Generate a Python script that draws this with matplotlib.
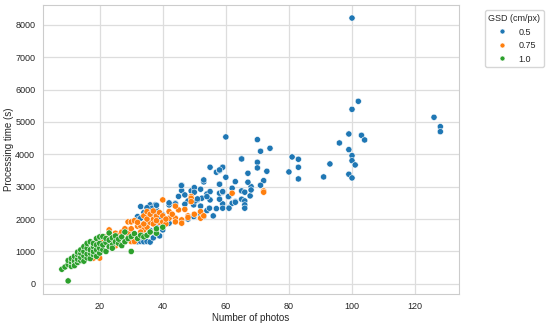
import matplotlib
matplotlib.use("Agg")
import matplotlib.pyplot as plt
import seaborn as sns
import pandas as pd

# GSD 1.0 (green)
x_gsd10 = [8, 9, 10, 10, 10, 11, 11, 11, 12, 12, 12, 12, 13, 13, 13, 13, 14, 14, 14, 14,
           15, 15, 15, 15, 16, 16, 16, 16, 17, 17, 17, 17, 18, 18, 18, 18, 19, 19, 19, 19,
           20, 20, 20, 20, 21, 21, 21, 22, 22, 22, 23, 23, 23, 24, 24, 24, 25, 25, 26, 26,
           27, 27, 28, 28, 29, 30, 30, 31, 32, 33, 34, 35, 36, 38, 38, 40]
y_gsd10 = [450, 520, 90, 600, 720, 540, 680, 780, 620, 700, 850, 560, 660, 760, 900, 980, 720, 820, 950, 1050,
           700, 860, 1000, 1150, 800, 920, 1100, 1250, 780, 950, 1050, 1300, 900, 1000, 1150, 1250, 850, 1050, 1200, 1400,
           950, 1100, 1250, 1450, 1050, 1200, 1460, 1000, 1280, 1400, 1150, 1350, 1570, 1200, 1420, 1100, 1300, 1480, 1250, 1380,
           1180, 1450, 1300, 1600, 1400, 1000, 1460, 1550, 1400, 1500, 1450, 1500, 1600, 1564, 1700, 1749]

# GSD 0.75 (orange)
x_gsd075 = [16, 18, 20, 23, 25, 25, 26, 22, 24, 27, 28, 29, 29, 30, 30, 31, 32, 33, 34, 34,
            35, 35, 36, 36, 37, 37, 38, 39, 40, 40, 41, 42, 42, 44, 44, 45, 46, 46, 48, 49,
            52, 62, 72, 72, 14, 15, 17, 19, 21, 22, 23, 24, 26, 27, 28, 29, 30, 31, 32, 33,
            34, 35, 36, 37, 38, 39, 40, 41, 43, 44, 47, 48, 49, 49, 50, 52, 53]
y_gsd075 = [1100, 793, 793, 1666, 1564, 1172, 1500, 1300, 1250, 1450, 1350, 1913, 1666, 1913, 1305, 1305, 1780, 1790, 2098, 1666,
            2231, 1750, 1900, 1600, 2000, 1850, 2100, 1900, 2592, 1913, 1850, 2231, 2027, 2027, 1913, 2284, 1975, 1873, 2098, 2694,
            2027, 2799, 2870, 2830, 850, 950, 1000, 1250, 1350, 1450, 1550, 1450, 1400, 1600, 1700, 1550, 1700, 1950, 1900, 1600,
            1850, 2000, 2150, 2250, 1950, 2200, 2100, 2000, 2150, 2400, 2300, 2050, 2645, 2540, 2150, 2231, 2100]

# GSD 0.5 (blue)
x_gsd05 = [32, 33, 34, 35, 36, 33, 35, 37, 38, 39, 40, 40, 38, 36, 34, 33, 35, 37, 32, 32,
           33, 35, 33, 36, 37.6, 36.6, 38, 38, 38, 40, 42, 42, 44, 44, 42, 34, 35, 37, 39, 41,
           46, 46, 45.9, 48, 49, 50, 50, 50, 51, 52, 53, 53, 54, 55, 55, 55, 57, 58, 59, 58,
           58, 59, 59, 61, 57, 56, 54, 52, 50, 47, 49.8, 50.3, 52.4, 54.8, 52, 53, 49.8, 47, 51, 54,
           48, 52, 45,
           60, 70, 71, 74, 65, 65, 70, 70, 73, 67, 72, 71, 68, 67, 63, 60, 59, 58, 58, 59,
           58, 61, 62, 65, 66, 62, 63, 65, 66, 66, 66, 59, 61, 60.8, 63, 67.7, 68,
           81, 83, 83, 80, 83, 91, 93, 96, 99, 99, 100, 100, 101, 99, 100, 100, 102, 100, 103, 104,
           126, 128, 128]
y_gsd05 = [1300, 1310, 1300, 1310, 1290, 1450, 1500, 1420, 1550, 1480, 1666, 1800, 1749, 1650, 1700, 1800, 1850, 1900, 2077, 1975,
           2027, 2077, 2386, 2438, 2438, 2336, 2284, 2231, 2428, 2130, 2438, 2500, 2490, 2469, 1873, 2200, 2350, 2150, 2050, 2000,
           3045, 2880, 3034, 2561, 2870, 2972, 2830, 2530, 2592, 2922, 3148, 3209, 2777, 2849, 2592, 3601, 3447, 3497, 3601, 3076,
           2799, 2830, 2469, 2355, 2324, 2098, 2262, 2200, 2098, 2459, 2438, 2561, 2645, 2336, 2151, 2077, 2077, 2746, 2623, 2694,
           2000, 2400, 2700,
           4537, 4454, 4095, 4187, 3867, 3857, 3755, 3580, 3477, 3415, 3188, 3045, 3003, 3138, 3157, 3292, 3601, 3518, 3076, 2849,
           2614, 2694, 2953, 2870, 2830, 2490, 2540, 2614, 2561, 2438, 2336, 2336, 2336, 2694, 2520, 2716, 2900,
           3919, 3848, 3601, 3456, 3240, 3302, 3703, 4351, 4629, 4145, 3960, 3805, 3672, 3385, 3271, 8210, 5638, 5390, 4588, 4444,
           5144, 4855, 4700]

gsd_labels = ["0.5", "0.75", "1.0"]
palette = ["#1f77b4", "#ff7f0e", "#2ca02c"]

df = pd.concat([
    pd.DataFrame({"photos": x_gsd05, "time": y_gsd05, "GSD (cm/px)": gsd_labels[0]}),
    pd.DataFrame({"photos": x_gsd075, "time": y_gsd075, "GSD (cm/px)": gsd_labels[1]}),
    pd.DataFrame({"photos": x_gsd10, "time": y_gsd10, "GSD (cm/px)": gsd_labels[2]}),
], ignore_index=True)

sns.set_style("whitegrid")
plt.rcParams['font.family'] = ['Liberation Sans', 'DejaVu Sans']

fig = plt.figure(figsize=(5.5, 3.26), dpi=100)
ax = fig.add_axes([0.078, 0.098, 0.757, 0.887])
sns.scatterplot(data=df, x="photos", y="time", hue="GSD (cm/px)",
                hue_order=gsd_labels, palette=palette, s=20, linewidth=0.4,
                edgecolor="white", ax=ax)
ax.set_xlabel("Number of photos", fontsize=7, labelpad=2)
ax.set_ylabel("Processing time (s)", fontsize=7, labelpad=0.5)
ax.tick_params(labelsize=6.5, pad=2)
ax.set_yticks([0, 1000, 2000, 3000, 4000, 5000, 6000, 7000, 8000])
ax.grid(color="#dddddd", linewidth=0.9)
for s in ax.spines.values():
    s.set_color("#cccccc")
leg = ax.legend(title="GSD (cm/px)", loc="upper left", bbox_to_anchor=(1.055, 0.99),
                fontsize=6.5, title_fontsize=6.5, markerscale=0.8, borderaxespad=0.3)
fig.savefig("out.png", dpi=100)
